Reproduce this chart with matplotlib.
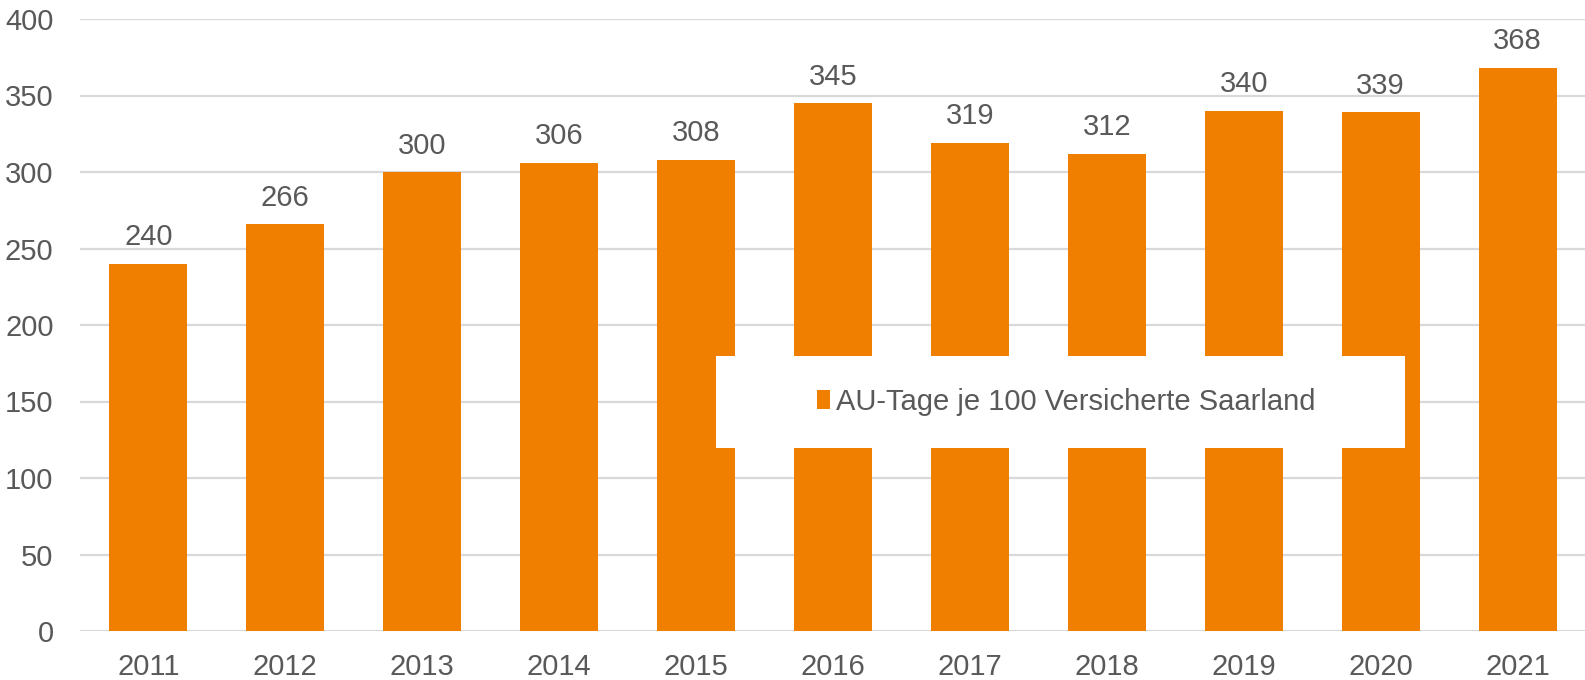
import matplotlib
matplotlib.use("Agg")
import matplotlib.pyplot as plt
from matplotlib.patches import Rectangle
from matplotlib import font_manager

years = ["2011", "2012", "2013", "2014", "2015", "2016", "2017", "2018", "2019", "2020", "2021"]
values = [240, 266, 300, 306, 308, 345, 319, 312, 340, 339, 368]
series_name = "AU-Tage je 100 Versicherte Saarland"
yticks = [0, 50, 100, 150, 200, 250, 300, 350, 400]

names = {f.name for f in font_manager.fontManager.ttflist}
fam = "Liberation Sans Narrow" if "Liberation Sans Narrow" in names else "Liberation Sans"
plt.rcParams["font.family"] = [fam, "DejaVu Sans"]

ORANGE = "#F07F00"
GREY = "#595959"
GRID = "#D9D9D9"

W, H = 1585, 680
fig = plt.figure(figsize=(W / 100, H / 100), dpi=100)
left, right, top, bottom = 80, 1586, 19, 631
ax = fig.add_axes([left / W, (H - bottom) / H, (right - left) / W, (bottom - top) / H])

x = list(range(len(years)))
bars = ax.bar(x, values, width=0.57, color=ORANGE, label=series_name, zorder=3)
for xi, v in zip(x, values):
    ax.annotate(str(v), (xi, v), xytext=(0, 9), textcoords="offset points",
                ha="center", va="bottom", fontsize=21, color=GREY)

ax.set_xlim(-0.5, len(years) - 0.5)
ax.set_ylim(0, 400)
ax.set_yticks(yticks)
ax.set_xticks(x)
ax.set_xticklabels(years)
ax.tick_params(axis="both", length=0, labelsize=21, colors=GREY)
ax.tick_params(axis="y", pad=19)
ax.tick_params(axis="x", pad=16)
ax.grid(axis="y", color=GRID, linewidth=1.6, zorder=0)
ax.set_axisbelow(True)
for s in ax.spines.values():
    s.set_visible(False)

# legend box
lx0, lx1, ly0, ly1 = 716, 1405, 356, 448
rect = Rectangle((lx0 / W, (H - ly1) / H), (lx1 - lx0) / W, (ly1 - ly0) / H,
                 transform=fig.transFigure, facecolor="white", edgecolor="none",
                 zorder=8, clip_on=False)
ax.add_patch(rect)
leg = ax.legend(loc="center left", bbox_to_anchor=(817 / W, (H - 402) / H),
                bbox_transform=fig.transFigure, frameon=False, fontsize=21,
                borderpad=0, borderaxespad=0,
                handlelength=0.45, handleheight=0.6, handletextpad=0.2, labelcolor=GREY)
leg.set_zorder(10)

fig.savefig("out.png", dpi=100)
